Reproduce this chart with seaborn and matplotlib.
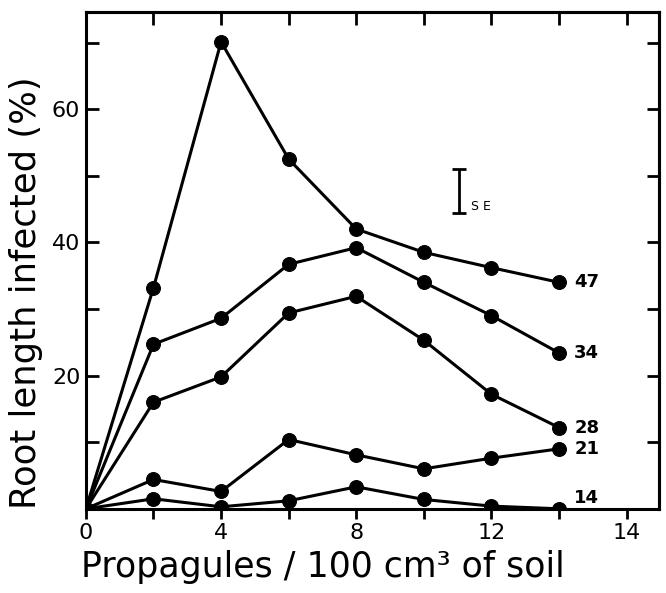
import numpy as np
import pandas as pd
import matplotlib
matplotlib.use('Agg')
import matplotlib.pyplot as plt
import seaborn as sns

# propagule densities and % root length infected, one list per harvest day
propagules = [0, 2, 4, 6, 8, 10, 12, 14]
day47 = [0, 33.2, 70.1, 52.5, 42.0, 38.5, 36.2, 34.0]
day34 = [0, 24.7, 28.6, 36.7, 39.2, 34.0, 29.0, 23.4]
day28 = [0, 16.0, 19.8, 29.4, 31.9, 25.3, 17.2, 12.2]
day21 = [0, 4.4, 2.6, 10.4, 8.1, 6.0, 7.6, 9.0]
day14 = [0, 1.5, 0.3, 1.2, 3.3, 1.4, 0.4, 0.0]
days = ['47', '34', '28', '21', '14']

# standard error bar shown in the plot
se_x = 11.05
se_mid = 47.7
se_half = 3.25

x_ticks = [0, 2, 4, 6, 8, 10, 12, 14, 16]
x_ticklabels = ['0', '', '4', '', '8', '', '12', '', '14']
y_ticks = [10, 20, 30, 40, 50, 60, 70]
y_ticklabels = ['', '20', '', '40', '', '60', '']

rows = []
for day, vals in zip(days, [day47, day34, day28, day21, day14]):
    for p, v in zip(propagules, vals):
        rows.append({'propagules': p, 'infected': v, 'day': day})
df = pd.DataFrame(rows)

sns.set_style('ticks', {'axes.edgecolor': 'black', 'text.color': 'black',
                        'xtick.color': 'black', 'ytick.color': 'black',
                        'axes.labelcolor': 'black'})
plt.rcParams['font.family'] = ['DejaVu Sans']

fig = plt.figure(figsize=(6.66, 5.93), dpi=100)
ax = fig.add_axes([0.129, 0.142, 0.860, 0.838])

sns.lineplot(data=df, x='propagules', y='infected', hue='day', palette=['black'] * 5,
             marker='o', markersize=10, markeredgecolor='black', linewidth=2.2,
             estimator=None, sort=False, legend=False, ax=ax)

ax.errorbar([se_x], [se_mid], yerr=[se_half], color='black', capsize=5,
            elinewidth=2, capthick=2, fmt='none')
ax.text(se_x + 0.35, se_mid - se_half, 'S E', fontsize=9, va='bottom', ha='left')

for day, vals in zip(days, [day47, day34, day28, day21, day14]):
    dy = 8 if day == '14' else 0
    ax.annotate(day, xy=(propagules[-1], vals[-1]), xytext=(11, dy),
                textcoords='offset points', va='center', ha='left',
                fontsize=13, fontweight='bold')

ax.set_xlim(0, 16.95)
ax.set_ylim(0, 74.6)
ax.set_xticks(x_ticks)
ax.set_xticklabels(x_ticklabels)
ax.set_yticks(y_ticks)
ax.set_yticklabels(y_ticklabels)
ax.tick_params(axis='x', direction='out', length=7, width=2, labelsize=16, pad=3)
ax.tick_params(axis='y', direction='in', length=9, width=2, labelsize=16, pad=4)

top = ax.secondary_xaxis('top')
top.set_xticks(x_ticks)
top.tick_params(direction='in', length=9, width=2, labeltop=False)
right = ax.secondary_yaxis('right')
right.set_yticks(y_ticks)
right.tick_params(direction='in', length=9, width=2, labelright=False)
for a in (ax, top, right):
    for s in a.spines.values():
        s.set_linewidth(2.2)
        s.set_color('black')

ax.set_xlabel('Propagules / 100 cm³ of soil', fontsize=25)
ax.set_ylabel('Root length infected (%)', fontsize=25.5)
ax.xaxis.set_label_coords(0.414, -0.083)
ax.yaxis.set_label_coords(-0.075, 0.435)

fig.savefig('out.png', dpi=100)
